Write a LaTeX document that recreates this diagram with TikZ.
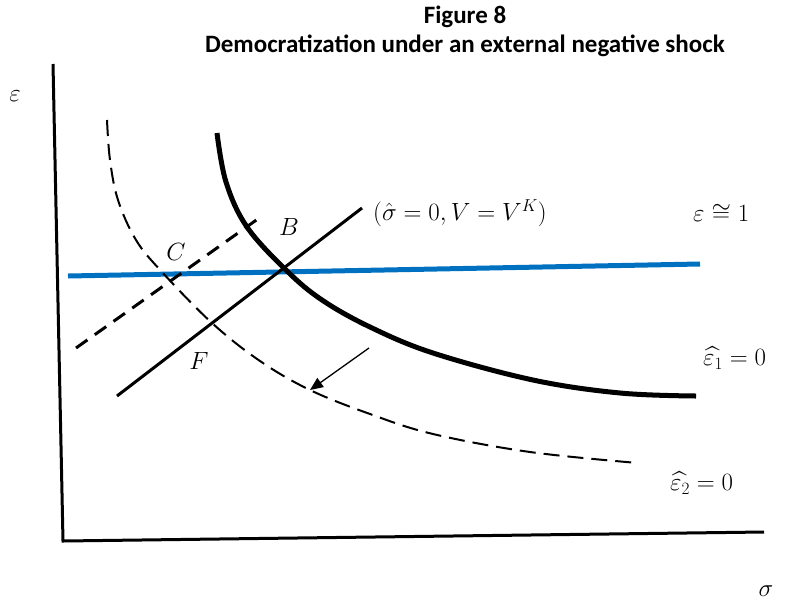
\documentclass[tikz,border=0pt]{standalone}
\usepackage{fontspec}
\usepackage{amsmath,amssymb}
\newfontfamily\titlefont{Carlito}
\usetikzlibrary{arrows.meta}
\definecolor{lineblue}{RGB}{0,112,192}
\begin{document}
\begin{tikzpicture}[x=1pt,y=-1pt,
  axisline/.style={line width=3pt},
  thickcurve/.style={line width=5pt},
  solidline/.style={line width=3pt},
  dashline/.style={line width=3pt,dash pattern=on 14pt off 9pt},
  dashcurve/.style={line width=2pt,dash pattern=on 16pt off 8pt},
  blueline/.style={line width=5pt,draw=lineblue},
  lab/.style={inner sep=0pt,font=\fontsize{26}{30}\selectfont},
  ttl/.style={inner sep=0pt,font=\titlefont\bfseries\fontsize{25}{30}\selectfont}]
\useasboundingbox (0,0) rectangle (786,600);
% title
\node[ttl] (t1) at (465,17) {Figure 8};
\node[ttl] (t2) at (465,46) {Democratization under an external negative shock};
% axes
\coordinate (ytop) at (53,64);
\coordinate (orig) at (63,541);
\coordinate (xend) at (764,532);
\draw[axisline] (ytop) -- (orig) -- (xend);
\node[lab] (eps) at (15,96) {$\varepsilon$};
\node[lab] (sig) at (766,591) {$\sigma$};
% blue line
\coordinate (bl) at (68,276);
\coordinate (br) at (700,264);
\draw[blueline] (bl) -- (br);
% thick curve eps1
\draw[thickcurve] plot[smooth,tension=0.6] coordinates {(217,133) (226,182) (247,227) (287,271) (322,300) (370,327) (433,353) (533,380) (620,393) (696,396)};
% dashed curve eps2
\draw[dashcurve] plot[smooth,tension=0.6] coordinates {(107,120) (110,160) (118,200) (136,240) (162,272) (212,323) (260,361) (310,390) (370,414) (433,434) (530,452) (638,463)};
% solid line
\coordinate (s1) at (117,396);
\coordinate (s2) at (362,208);
\draw[solidline] (s1) -- (s2);
% dashed parallel line
\coordinate (d1) at (76,348);
\coordinate (d2) at (262,216);
\draw[dashline] (d1) -- (d2);
% arrow
\coordinate (a1) at (369,348);
\coordinate (a2) at (310,390);
\draw[line width=1.3pt,-{Triangle[length=13pt,width=11pt]}] (a1) -- (a2);
% point labels
\node[lab] (C) at (176,252) {$C$};
\node[lab] (B) at (289,227) {$B$};
\node[lab] (F) at (199,361) {$F$};
% curve labels
\node[lab,anchor=west] (sl) at (373,213) {$(\hat{\sigma}=0, V=V^{K})$};
\node[lab,anchor=west] (e1) at (693,213) {$\varepsilon\cong 1$};
\node[lab,anchor=west] (e1h) at (703,358) {$\widehat{\varepsilon_1}=0$};
\node[lab,anchor=west] (e2h) at (670,483) {$\widehat{\varepsilon_2}=0$};
\end{tikzpicture}
\end{document}
